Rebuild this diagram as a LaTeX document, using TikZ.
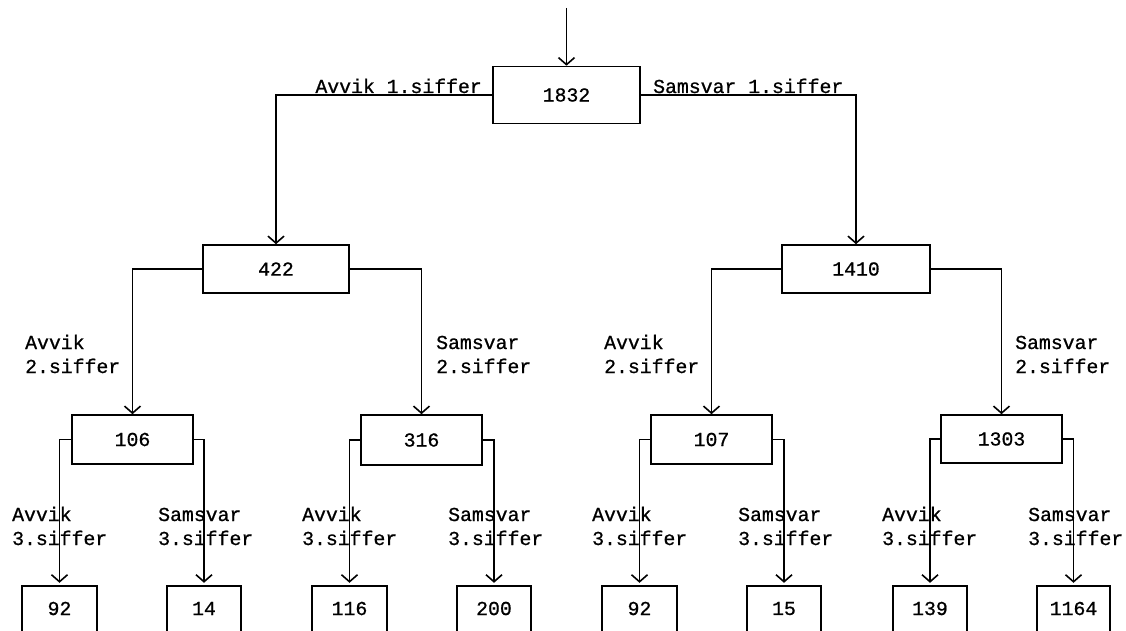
\documentclass[tikz,border=0pt]{standalone}
\usepackage{fontspec}
\newfontfamily\tw[FakeBold=0.8]{Liberation Mono}
\usetikzlibrary{arrows.meta}
\begin{document}
\begin{tikzpicture}[x=1pt,y=-1pt,
  every node/.style={font=\tw\fontsize{19.8}{24}\selectfont, inner sep=0pt},
  ln/.style={line width=1.6pt},
  box/.style={draw, line width=1.6pt},
  leaf/.style={minimum height=45pt},
  arr/.style={ln, -{Straight Barb[length=7pt,width=16pt,line width=1.6pt]}},
  lbl/.style={anchor=base west, align=left}
]
\useasboundingbox (0,0) rectangle (1126,631);

% boxes
\node[box, minimum width=147pt, minimum height=57pt] (root) at (566.5,95) {1832};
\node[box, minimum width=146pt, minimum height=48pt] (n422) at (276,269) {422};
\node[box, minimum width=148pt, minimum height=48pt] (n1410) at (856,269) {1410};
\node[box, minimum width=121pt, minimum height=49pt] (n106) at (132.5,439.5) {106};
\node[box, minimum width=121pt, minimum height=50pt] (n316) at (421.5,440) {316};
\node[box, minimum width=121pt, minimum height=49pt] (n107) at (711.5,439.5) {107};
\node[box, minimum width=121pt, minimum height=48pt] (n1303) at (1001.5,439) {1303};

% leaves (open at the bottom)
\node[leaf, minimum width=75pt] (b1) at (59.5,608.5) {92};
\node[leaf, minimum width=74pt] (b2) at (204,608.5) {14};
\node[leaf, minimum width=75pt] (b3) at (349.5,608.5) {116};
\node[leaf, minimum width=74pt] (b4) at (494,608.5) {200};
\node[leaf, minimum width=75pt] (b5) at (639.5,608.5) {92};
\node[leaf, minimum width=74pt] (b6) at (784,608.5) {15};
\node[leaf, minimum width=74pt] (b7) at (930,608.5) {139};
\node[leaf, minimum width=73pt] (b8) at (1073.5,608.5) {1164};
\foreach \b in {b1,b2,b3,b4,b5,b6,b7,b8}
  \draw[ln] (\b.south west) |- (\b.north east) -- (\b.south east);

% connectors
\coordinate (start) at (566.5,8);
\draw[arr] (start) -- (root.north);
\draw[arr] (root.west) -| (n422.north);
\draw[arr] (root.east) -| (n1410.north);
\draw[arr] (n422.west) -| (n106.north);
\draw[arr] (n422.east) -| (n316.north);
\draw[arr] (n1410.west) -| (n107.north);
\draw[arr] (n1410.east) -| (n1303.north);
\draw[arr, shorten >=3pt] (n106.west) -| (b1.north);
\draw[arr, shorten >=3pt] (n106.east) -| (b2.north);
\draw[arr, shorten >=3pt] (n316.west) -| (b3.north);
\draw[arr, shorten >=3pt] (n316.east) -| (b4.north);
\draw[arr, shorten >=3pt] (n107.west) -| (b5.north);
\draw[arr, shorten >=3pt] (n107.east) -| (b6.north);
\draw[arr, shorten >=3pt] (n1303.west) -| (b7.north);
\draw[arr, shorten >=3pt] (n1303.east) -| (b8.north);

% labels level 1
\node[anchor=base east] (l1a) at (482,93) {Avvik 1.siffer};
\node[anchor=base west] (l1s) at (653,93) {Samsvar 1.siffer};
% labels level 2 (anchor at baseline of second line)
\node[lbl] (l2a) at (25,373) {Avvik\\2.siffer};
\node[lbl] (l2b) at (436,373) {Samsvar\\2.siffer};
\node[lbl] (l2c) at (604,373) {Avvik\\2.siffer};
\node[lbl] (l2d) at (1015,373) {Samsvar\\2.siffer};
% labels level 3
\node[lbl] (l3a) at (12,545) {Avvik\\3.siffer};
\node[lbl] (l3b) at (158,545) {Samsvar\\3.siffer};
\node[lbl] (l3c) at (302,545) {Avvik\\3.siffer};
\node[lbl] (l3d) at (448,545) {Samsvar\\3.siffer};
\node[lbl] (l3e) at (592,545) {Avvik\\3.siffer};
\node[lbl] (l3f) at (738,545) {Samsvar\\3.siffer};
\node[lbl] (l3g) at (882,545) {Avvik\\3.siffer};
\node[lbl] (l3h) at (1028,545) {Samsvar\\3.siffer};
\end{tikzpicture}
\end{document}
